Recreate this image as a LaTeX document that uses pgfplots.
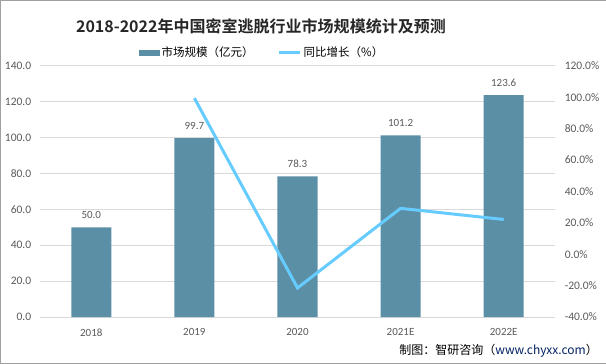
\documentclass[border=0pt]{standalone}
\usepackage{pgfplots}
\pgfplotsset{compat=1.18}
\usepackage{fontspec}
\setmainfont{Carlito}
\newfontfamily\cjk{Noto Sans CJK SC}
\newfontfamily\cjkb{Noto Sans CJK SC Bold}
\definecolor{barc}{RGB}{91,143,166}
\definecolor{linec}{RGB}{102,204,255}
\definecolor{gridc}{RGB}{217,217,217}
\definecolor{tickc}{RGB}{89,89,89}
\definecolor{framec}{RGB}{160,160,160}
\definecolor{urlc}{RGB}{0,32,96}
\begin{document}
\begin{tikzpicture}
\draw[framec] (0.5pt,0.5pt) rectangle (605.5pt,363.5pt);
\begin{axis}[
  at={(40pt,47pt)}, anchor=south west, scale only axis, width=515pt, height=251pt,
  xmin=-0.5, xmax=4.5, ymin=0, ymax=140, ytick={0,20,...,140},
  xtick={0,...,4}, xticklabels={2018,2019,2020,2021E,2022E},
  axis line style={draw=none}, major tick length=0pt,
  ymajorgrids, grid style={gridc, line width=0.8pt},
  /pgf/number format/assume math mode=true,
  yticklabel style={font=\fontsize{11.5}{13}\selectfont, color=tickc, xshift=-5pt, /pgf/number format/fixed, /pgf/number format/fixed zerofill, /pgf/number format/precision=1},
  xticklabel style={font=\fontsize{11}{13}\selectfont, color=tickc, yshift=-8pt},
  ybar, bar width=40pt,
  nodes near coords,
  every node near coord/.append style={font=\fontsize{11}{13}\selectfont, color=tickc, /pgf/number format/fixed, /pgf/number format/fixed zerofill, /pgf/number format/precision=1, yshift=5pt},
  legend columns=2,
  legend style={at={(0.431,1.052)}, anchor=center, draw=none, fill=none, font=\cjk\fontsize{11.5}{13}\selectfont, /tikz/every even column/.append style={column sep=22pt}},
]
\addplot[fill=barc, draw=none, legend image code/.code={\fill[barc] (0pt,-3pt) rectangle (21pt,3pt);}] coordinates {(0,50.0) (1,99.7) (2,78.3) (3,101.2) (4,123.6)};
\addlegendentry{市场规模（亿元）}
\addlegendimage{linec, line width=3pt, legend image code/.code={\draw[linec, line width=3pt] (0pt,0pt) -- (21pt,0pt);}}
\addlegendentry{同比增长（\%）}
\end{axis}
\begin{axis}[
  at={(40pt,47pt)}, anchor=south west, scale only axis, width=515pt, height=251pt,
  xmin=-0.5, xmax=4.5, ymin=-40, ymax=120, ytick={-40,-20,...,120},
  xtick=\empty, axis y line*=right, axis x line=none,
  axis line style={draw=none}, major tick length=0pt,
  /pgf/number format/assume math mode=true,
  yticklabel={\pgfmathprintnumber[fixed, fixed zerofill, precision=1]{\tick}\%},
  yticklabel style={font=\fontsize{11.5}{13}\selectfont, color=tickc, xshift=6pt},
]
\addplot[linec, line width=3pt, no markers] coordinates {(1,99.4) (2,-21.5) (3,29.2) (4,22.1)};
\end{axis}
\node[font=\cjkb\fontsize{16}{18}\selectfont, color=black!85] at (261pt,337pt) {2018-2022年中国密室逃脱行业市场规模统计及预测};
\node[anchor=east, font=\cjk\fontsize{12}{14}\selectfont] at (601pt,13pt) {制图：智研咨询（\textcolor{urlc}{www.chyxx.com}）};
\end{tikzpicture}
\end{document}
